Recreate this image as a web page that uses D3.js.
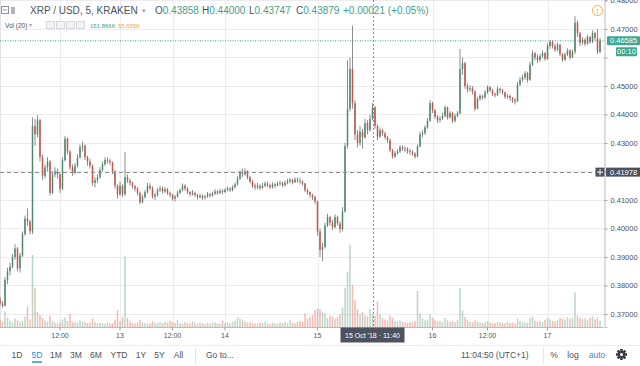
<!DOCTYPE html>
<html>
<head>
<meta charset="utf-8">
<script src="https://cdn.jsdelivr.net/npm/d3@7"></script>
<style>
  body { margin: 0; background: #fff; }
  svg { display: block; font-family: "Liberation Sans", Arial, sans-serif; }
</style>
</head>
<body>
<svg id="chart"></svg>
<script>
// XRP/USD Kraken, drawn as 30 minute candles. Prices in units of 0.0001 USD
const firstOpen = 3750;
const closes = [
  3737,3728,3820,3850,3866,3900,3930,3860,3905,3980,
  4035,4025,3990,4360,4330,4380,4250,4185,4215,4235,
  4125,4190,4200,4190,4140,4240,4315,4270,4215,4195,
  4220,4250,4285,4290,4250,4235,4220,4160,4170,4180,
  4205,4225,4240,4238,4232,4200,4150,4120,4150,4120,
  4180,4168,4160,4148,4140,4125,4092,4110,4128,4150,
  4142,4112,4118,4135,4140,4130,4138,4125,4118,4105,
  4112,4125,4135,4150,4140,4128,4120,4125,4118,4110,
  4115,4108,4112,4120,4115,4122,4130,4125,4132,4128,
  4135,4140,4135,4145,4155,4175,4195,4190,4200,4180,
  4165,4150,4145,4150,4142,4150,4158,4152,4145,4155,
  4150,4158,4160,4152,4160,4165,4170,4162,4172,4168,
  4165,4158,4135,4128,4118,4110,4095,3990,3925,3935,
  4010,4040,4020,4005,4040,4018,3998,4060,4290,4420,
  4560,4440,4330,4300,4340,4320,4370,4345,4385,4425,
  4360,4322,4345,4333,4320,4310,4275,4252,4265,4270,
  4285,4280,4278,4272,4268,4262,4252,4288,4330,4335,
  4355,4378,4440,4415,4392,4380,4385,4395,4425,4390,
  4405,4378,4395,4405,4560,4580,4500,4488,4492,4480,
  4420,4455,4465,4460,4478,4495,4485,4472,4468,4490,
  4485,4478,4462,4465,4458,4450,4445,4505,4522,4530,
  4545,4522,4575,4615,4600,4592,4605,4615,4595,4640,
  4655,4640,4628,4645,4612,4592,4610,4625,4600,4620,
  4722,4685,4652,4662,4648,4672,4655,4686,4668,4620,
  4658.5
];
const highs = [
  3760,3745,3830,3862,3880,3910,3945,3935,3915,3990,
  4045,4070,4030,4390,4385,4398,4385,4260,4225,4250,
  4240,4200,4215,4210,4195,4250,4325,4320,4275,4225,
  4230,4260,4295,4305,4295,4255,4245,4225,4180,4190,
  4215,4235,4250,4250,4245,4235,4205,4155,4165,4155,
  4268,4190,4175,4165,4152,4145,4130,4118,4135,4160,
  4158,4148,4125,4142,4150,4148,4145,4142,4130,4122,
  4118,4132,4140,4158,4155,4145,4132,4135,4130,4122,
  4122,4120,4118,4128,4125,4130,4138,4135,4140,4138,
  4142,4148,4145,4152,4162,4185,4205,4210,4212,4205,
  4185,4170,4158,4160,4155,4160,4165,4165,4158,4162,
  4160,4165,4168,4165,4168,4175,4178,4175,4180,4180,
  4178,4170,4160,4140,4130,4122,4115,4098,4000,3950,
  4020,4052,4045,4030,4050,4045,4025,4075,4300,4590,
  4600,4712,4450,4345,4360,4350,4385,4380,4400,4440,
  4430,4365,4355,4350,4340,4325,4315,4280,4272,4278,
  4292,4292,4288,4285,4280,4275,4268,4295,4340,4345,
  4362,4388,4450,4445,4420,4398,4395,4405,4432,4428,
  4412,4410,4402,4412,4630,4600,4585,4510,4502,4500,
  4485,4462,4472,4470,4485,4502,4500,4490,4478,4498,
  4495,4490,4480,4472,4470,4462,4458,4515,4532,4540,
  4552,4550,4585,4625,4620,4610,4612,4625,4620,4650,
  4662,4660,4648,4652,4648,4615,4618,4632,4628,4628,
  4745,4730,4690,4672,4668,4680,4675,4695,4690,4700,
  4668
];
const lows = [
  3730,3722,3728,3805,3835,3860,3890,3850,3845,3900,
  3975,4010,3980,3980,4290,4320,4235,4170,4175,4200,
  4115,4120,4180,4175,4125,4135,4235,4260,4205,4185,
  4190,4215,4245,4270,4240,4220,4210,4150,4145,4160,
  4175,4200,4220,4228,4222,4190,4140,4105,4115,4110,
  4115,4160,4150,4140,4130,4115,4085,4088,4105,4122,
  4135,4105,4100,4112,4128,4122,4125,4118,4110,4098,
  4095,4108,4120,4130,4132,4120,4112,4115,4110,4102,
  4105,4100,4102,4108,4108,4112,4118,4118,4120,4120,
  4125,4130,4128,4130,4140,4150,4170,4180,4185,4172,
  4158,4142,4135,4138,4135,4140,4145,4145,4138,4140,
  4142,4148,4150,4145,4148,4155,4158,4155,4160,4160,
  4155,4150,4128,4118,4108,4100,4085,3975,3900,3885,
  3930,4005,4010,3995,4000,4010,3985,3990,4055,4280,
  4410,4420,4310,4285,4290,4280,4315,4330,4340,4380,
  4350,4310,4318,4325,4312,4300,4268,4245,4248,4258,
  4265,4272,4268,4262,4258,4255,4245,4250,4285,4320,
  4328,4350,4375,4405,4385,4370,4372,4380,4390,4382,
  4385,4370,4372,4390,4400,4540,4490,4478,4480,4470,
  4412,4418,4448,4452,4455,4472,4478,4465,4460,4465,
  4475,4470,4455,4455,4448,4440,4435,4445,4500,4515,
  4522,4512,4518,4570,4590,4580,4585,4598,4588,4592,
  4630,4632,4620,4622,4605,4585,4588,4605,4592,4598,
  4612,4672,4640,4645,4640,4645,4648,4650,4660,4612,
  4615
];
// volume in thousands
const volumes = [
  250,180,520,300,200,150,280,220,160,200,
  350,680,250,2400,1300,500,400,300,220,180,
  380,200,150,120,160,250,320,200,430,180,
  150,140,220,180,160,130,150,280,160,120,
  140,130,110,150,120,130,250,560,200,330,
  2350,300,180,130,120,160,240,150,130,110,
  120,190,150,140,160,130,180,150,210,170,
  140,230,120,110,170,130,120,200,140,110,
  150,120,100,140,110,130,160,120,110,220,
  130,150,120,170,200,330,280,240,180,150,
  160,140,120,110,150,130,180,120,110,140,
  120,110,150,130,170,120,240,150,130,180,
  210,180,450,280,330,400,560,620,600,520,
  450,300,380,350,280,330,420,650,1300,1850,
  2750,1400,900,600,420,500,380,350,600,450,
  380,850,420,300,250,220,380,300,200,180,
  220,180,150,140,170,150,200,1200,450,280,
  220,250,420,300,220,180,200,160,300,220,
  180,200,160,230,1300,550,330,250,180,160,
  220,180,150,140,160,200,150,130,140,170,
  150,140,130,160,140,150,120,280,200,160,
  150,140,300,350,220,180,200,160,240,300,
  250,200,180,220,300,280,250,330,270,300,
  1150,380,300,260,280,240,300,350,260,320,
  200
];
const priceTicks = [0.37, 0.38, 0.39, 0.40, 0.41, 0.42, 0.43, 0.44, 0.45, 0.46, 0.47, 0.48];
const timeTickBars = [24, 48, 69, 90, 127, 173, 195, 219];
const timeTickLabels = ['12:00', '13', '12:00', '14', '15', '16', '12:00', '17'];
const lastPrice = 0.46585;
const countdown = '00:10';
const crossPrice = 0.41978;
const crossBar = 149;
const crossLabel = "15 Oct '18 \u00b7 11:40";
const legendValues = ['0.43858', '0.44000', '0.43747', '0.43879'];
const legendChange = '+0.00021 (+0.05%)';
const volumeValues = ['151.866K', '55.655K'];
const rangeButtons = ['1D', '5D', '1M', '3M', '6M', 'YTD', '1Y', '5Y', 'All'];

class CandleChart {

  constructor(_config) {
    this.config = {
      parentElement: _config.parentElement,
      containerWidth: 640,
      containerHeight: 366,
      plotRight: 604,
      plotBottom: 327
    };
    this.colors = {
      up: '#4f8a6c', down: '#c55548', wick: '#6f7072',
      volUp: 'rgba(107,165,131,0.45)', volDown: 'rgba(215,84,66,0.4)',
      grid: '#ececee', text: '#4c525e', teal: '#3fa08c', dark: '#4c525e'
    };
    this.data = closes.map((c, i) => ({
      i: i,
      open: (i === 0 ? firstOpen : closes[i - 1]) / 1e4,
      close: c / 1e4,
      high: highs[i] / 1e4,
      low: lows[i] / 1e4,
      vol: volumes[i]
    }));
    this.initVis();
  }

  initVis() {
    let vis = this;
    const cfg = vis.config;

    vis.svg = d3.select(cfg.parentElement)
        .attr('width', cfg.containerWidth)
        .attr('height', cfg.containerHeight);

    // bar index -> x, 2.5px per bar, centre of bar i at 2.5*i
    const n = vis.data.length;
    vis.x = d3.scaleBand()
        .domain(d3.range(n))
        .range([-1.25, n * 2.5 - 1.25])
        .paddingInner(0.4)
        .paddingOuter(0.2);

    vis.y = d3.scaleLinear()
        .domain([0.48 - 326.5 / 2850, 0.48 + 0.5 / 2850])
        .range([cfg.plotBottom, 0]);

    vis.yVol = d3.scaleLinear()
        .domain([0, 3000])
        .range([cfg.plotBottom, cfg.plotBottom - 90]);

    vis.plot = vis.svg.append('g');
    vis.svg.append('clipPath').attr('id', 'plot-clip')
      .append('rect').attr('x', 0).attr('y', 0)
        .attr('width', cfg.plotRight).attr('height', cfg.plotBottom);

    vis.renderVis();
  }

  cx(i) {
    return this.x(i) + this.x.bandwidth() / 2;
  }

  renderVis() {
    let vis = this;
    const cfg = vis.config;
    const col = vis.colors;

    // grid
    vis.plot.selectAll('.hgrid')
        .data(priceTicks)
      .join('line')
        .attr('class', 'hgrid')
        .attr('x1', 0).attr('x2', cfg.plotRight)
        .attr('y1', d => Math.round(vis.y(d)) + 0.5)
        .attr('y2', d => Math.round(vis.y(d)) + 0.5)
        .attr('stroke', col.grid);

    vis.plot.selectAll('.vgrid')
        .data(timeTickBars)
      .join('line')
        .attr('class', 'vgrid')
        .attr('x1', d => Math.round(vis.cx(d)) + 0.5)
        .attr('x2', d => Math.round(vis.cx(d)) + 0.5)
        .attr('y1', 0).attr('y2', cfg.plotBottom)
        .attr('stroke', col.grid);

    vis.plot.append('line')
        .attr('x1', 0.5).attr('x2', 0.5).attr('y1', 0).attr('y2', cfg.plotBottom)
        .attr('stroke', '#e3e3e6');

    const inner = vis.plot.append('g').attr('clip-path', 'url(#plot-clip)');

    // volume
    inner.selectAll('.vol')
        .data(vis.data)
      .join('rect')
        .attr('class', 'vol')
        .attr('x', d => vis.x(d.i))
        .attr('width', vis.x.bandwidth())
        .attr('y', d => vis.yVol(d.vol))
        .attr('height', d => cfg.plotBottom - vis.yVol(d.vol))
        .attr('fill', d => d.close >= d.open ? col.volUp : col.volDown);

    // last price line
    inner.append('line')
        .attr('x1', 0).attr('x2', cfg.plotRight)
        .attr('y1', vis.y(lastPrice)).attr('y2', vis.y(lastPrice))
        .attr('stroke', col.teal).attr('stroke-dasharray', '1,1.5');

    // candles
    inner.selectAll('.wick')
        .data(vis.data)
      .join('line')
        .attr('class', 'wick')
        .attr('x1', d => vis.cx(d.i)).attr('x2', d => vis.cx(d.i))
        .attr('y1', d => vis.y(d.high)).attr('y2', d => vis.y(d.low))
        .attr('stroke', col.wick).attr('stroke-width', 0.8);

    inner.selectAll('.body')
        .data(vis.data)
      .join('rect')
        .attr('class', 'body')
        .attr('x', d => vis.x(d.i))
        .attr('width', vis.x.bandwidth())
        .attr('y', d => vis.y(Math.max(d.open, d.close)))
        .attr('height', d => Math.max(0.8, Math.abs(vis.y(d.open) - vis.y(d.close))))
        .attr('fill', d => d.close >= d.open ? col.up : col.down);

    // crosshair
    inner.append('line')
        .attr('x1', 0).attr('x2', cfg.plotRight)
        .attr('y1', Math.round(vis.y(crossPrice)) + 0.5).attr('y2', Math.round(vis.y(crossPrice)) + 0.5)
        .attr('stroke', '#8a8e98').attr('stroke-dasharray', '4,3');
    inner.append('line')
        .attr('x1', Math.round(vis.cx(crossBar)) + 0.5).attr('x2', Math.round(vis.cx(crossBar)) + 0.5)
        .attr('y1', 0).attr('y2', cfg.plotBottom)
        .attr('stroke', '#8a8e98').attr('stroke-dasharray', '2,2');

    // price axis (0.46 label sits under the countdown box, so it is left blank)
    const yAxis = d3.axisRight(vis.y)
        .tickValues(priceTicks)
        .tickFormat(d => d === 0.46 ? '' : d3.format('.5f')(d))
        .tickSize(3)
        .tickPadding(3);
    const yAxisG = vis.svg.append('g')
        .attr('transform', `translate(${cfg.plotRight + 0.5},0)`)
        .call(yAxis);
    yAxisG.select('.domain').attr('stroke', '#b8bcc4');
    yAxisG.selectAll('.tick line').attr('stroke', '#9a9ea6');
    yAxisG.selectAll('.tick text')
        .attr('font-size', 7.5).attr('fill', col.text)
        .attr('font-family', '"Liberation Sans", Arial, sans-serif');

    // time axis
    const xAxis = d3.axisBottom(vis.x)
        .tickValues(timeTickBars)
        .tickFormat((d, i) => timeTickLabels[i])
        .tickSize(3)
        .tickPadding(3);
    const xAxisG = vis.svg.append('g')
        .attr('transform', `translate(0,${cfg.plotBottom + 0.5})`)
        .call(xAxis);
    xAxisG.select('.domain').attr('d', `M0,0H${cfg.plotRight}`).attr('stroke', '#b8bcc4');
    xAxisG.selectAll('.tick line').attr('stroke', '#9a9ea6');
    xAxisG.selectAll('.tick text')
        .attr('font-size', 7).attr('fill', col.text)
        .attr('font-family', '"Liberation Sans", Arial, sans-serif');

    // price labels on the axis
    const yl = vis.y(lastPrice);
    vis.svg.append('rect').attr('x', 607).attr('y', yl - 4.5).attr('width', 33).attr('height', 9)
        .attr('fill', '#3ea893').attr('rx', 1);
    vis.svg.append('text').attr('x', 610).attr('y', yl).attr('dy', '0.35em')
        .attr('font-size', 7.5).attr('fill', '#fff').text(d3.format('.5f')(lastPrice));
    vis.svg.append('rect').attr('x', 616).attr('y', yl + 6.5).attr('width', 21).attr('height', 9)
        .attr('fill', '#3ea893').attr('rx', 1);
    vis.svg.append('text').attr('x', 626.5).attr('y', yl + 11).attr('dy', '0.35em')
        .attr('text-anchor', 'middle').attr('font-size', 7.5).attr('fill', '#fff').text(countdown);

    const yc = vis.y(crossPrice);
    vis.svg.append('rect').attr('x', 606).attr('y', yc - 4.5).attr('width', 34).attr('height', 9)
        .attr('fill', col.dark);
    vis.svg.append('text').attr('x', 610).attr('y', yc).attr('dy', '0.35em')
        .attr('font-size', 7.5).attr('fill', '#fff').text(d3.format('.5f')(crossPrice));
    vis.svg.append('rect').attr('x', 595.5).attr('y', yc - 4.5).attr('width', 9).attr('height', 9)
        .attr('fill', col.dark);
    vis.svg.append('path').attr('d', `M597,${yc}H603M600,${yc - 3}V${yc + 3}`)
        .attr('stroke', '#fff').attr('stroke-width', 1);

    // time label of the crosshair
    const xc = vis.cx(crossBar);
    vis.svg.append('rect').attr('x', xc - 32).attr('y', cfg.plotBottom + 0.5).attr('width', 64).attr('height', 15)
        .attr('fill', col.dark);
    vis.svg.append('text').attr('x', xc).attr('y', cfg.plotBottom + 8.5).attr('dy', '0.35em')
        .attr('text-anchor', 'middle').attr('font-size', 7).attr('fill', '#fff').text(crossLabel);

    vis.renderLegend();
    vis.renderToolbar();
  }

  renderLegend() {
    let vis = this;
    const col = vis.colors;
    const g = vis.svg.append('g');

    // collapse + symbol icons
    g.append('rect').attr('x', 1.5).attr('y', 6.5).attr('width', 7).attr('height', 7)
        .attr('fill', 'none').attr('stroke', '#8d919a');
    g.append('line').attr('x1', 3).attr('x2', 7).attr('y1', 10).attr('y2', 10).attr('stroke', '#8d919a');
    g.append('rect').attr('x', 11).attr('y', 7).attr('width', 4).attr('height', 7).attr('fill', '#b0b3ba');

    g.append('text').attr('x', 30).attr('y', 14)
        .attr('font-size', 10).attr('fill', col.text).text('XRP / USD, 5, KRAKEN');
    g.append('text').attr('x', 142).attr('y', 13)
        .attr('font-size', 7).attr('fill', '#a0a4ac').text('\u25be');

    const letters = ['O', 'H', 'L', 'C'];
    const starts = [155, 202, 249, 296];
    letters.forEach((l, k) => {
      const t = g.append('text').attr('x', starts[k]).attr('y', 14).attr('font-size', 10);
      t.append('tspan').attr('fill', col.text).text(l);
      t.append('tspan').attr('fill', col.teal).text(legendValues[k]);
    });
    g.append('text').attr('x', 343).attr('y', 14)
        .attr('font-size', 10).attr('fill', col.teal).text(legendChange);

    // volume legend row
    g.append('text').attr('x', 5).attr('y', 27.5)
        .attr('font-size', 6.5).attr('fill', col.text).text('Vol (20)');
    g.append('text').attr('x', 29).attr('y', 27)
        .attr('font-size', 5.5).attr('fill', '#a0a4ac').text('\u25be');
    [46, 56, 66, 76].forEach(bx => {
      g.append('rect').attr('x', bx + 0.5).attr('y', 21.5).attr('width', 8).attr('height', 7)
          .attr('fill', '#f2f3f5').attr('stroke', '#d6d8dc');
    });
    g.append('text').attr('x', 90).attr('y', 27.5)
        .attr('font-size', 6).attr('fill', col.teal).text(volumeValues[0]);
    g.append('text').attr('x', 118).attr('y', 27.5)
        .attr('font-size', 6).attr('fill', '#f0a05a').text(volumeValues[1]);

    // warning icon
    g.append('circle').attr('cx', 597.5).attr('cy', 10.5).attr('r', 5)
        .attr('fill', 'none').attr('stroke', '#f0ad5a').attr('stroke-width', 1);
    g.append('text').attr('x', 597.5).attr('y', 13.5).attr('text-anchor', 'middle')
        .attr('font-size', 7).attr('font-weight', 'bold').attr('fill', '#f0ad5a').text('!');
  }

  renderToolbar() {
    let vis = this;
    const col = vis.colors;
    const g = vis.svg.append('g').attr('font-size', 8.5);
    const by = 357.5;

    g.append('line').attr('x1', 0).attr('x2', 640).attr('y1', 345.5).attr('y2', 345.5)
        .attr('stroke', '#eceef1');

    const bx = [17, 37, 56, 76, 96, 119, 141, 159.5, 178.5];
    g.selectAll('.range')
        .data(rangeButtons)
      .join('text')
        .attr('class', 'range')
        .attr('x', (d, i) => bx[i]).attr('y', by)
        .attr('text-anchor', 'middle')
        .attr('fill', d => d === '5D' ? '#2f8fe0' : col.text)
        .text(d => d);
    g.append('line').attr('x1', 32).attr('x2', 42).attr('y1', 362).attr('y2', 362)
        .attr('stroke', '#2f8fe0').attr('stroke-width', 1.5);

    g.append('line').attr('x1', 195.5).attr('x2', 195.5).attr('y1', 348).attr('y2', 364)
        .attr('stroke', '#e3e5e9');
    g.append('text').attr('x', 206).attr('y', by).attr('fill', col.text).text('Go to...');

    g.append('text').attr('x', 461).attr('y', by).attr('fill', col.text).text('11:04:50 (UTC+1)');
    g.append('line').attr('x1', 543.5).attr('x2', 543.5).attr('y1', 348).attr('y2', 364)
        .attr('stroke', '#e3e5e9');
    g.append('text').attr('x', 554).attr('y', by).attr('text-anchor', 'middle')
        .attr('fill', col.text).text('%');
    g.append('text').attr('x', 573).attr('y', by).attr('text-anchor', 'middle')
        .attr('fill', col.text).text('log');
    g.append('text').attr('x', 597).attr('y', by).attr('text-anchor', 'middle')
        .attr('fill', '#2f8fe0').text('auto');

    // gear
    const gear = g.append('g').attr('transform', 'translate(621.5,354.5)');
    gear.selectAll('rect')
        .data(d3.range(8))
      .join('rect')
        .attr('x', -1.3).attr('y', -5.5).attr('width', 2.6).attr('height', 3)
        .attr('fill', '#3a3e46')
        .attr('transform', d => `rotate(${d * 45})`);
    gear.append('circle').attr('r', 3.6).attr('fill', '#3a3e46');
    gear.append('circle').attr('r', 1.5).attr('fill', '#fff');
  }
}

new CandleChart({ parentElement: '#chart' });
</script>
</body>
</html>
